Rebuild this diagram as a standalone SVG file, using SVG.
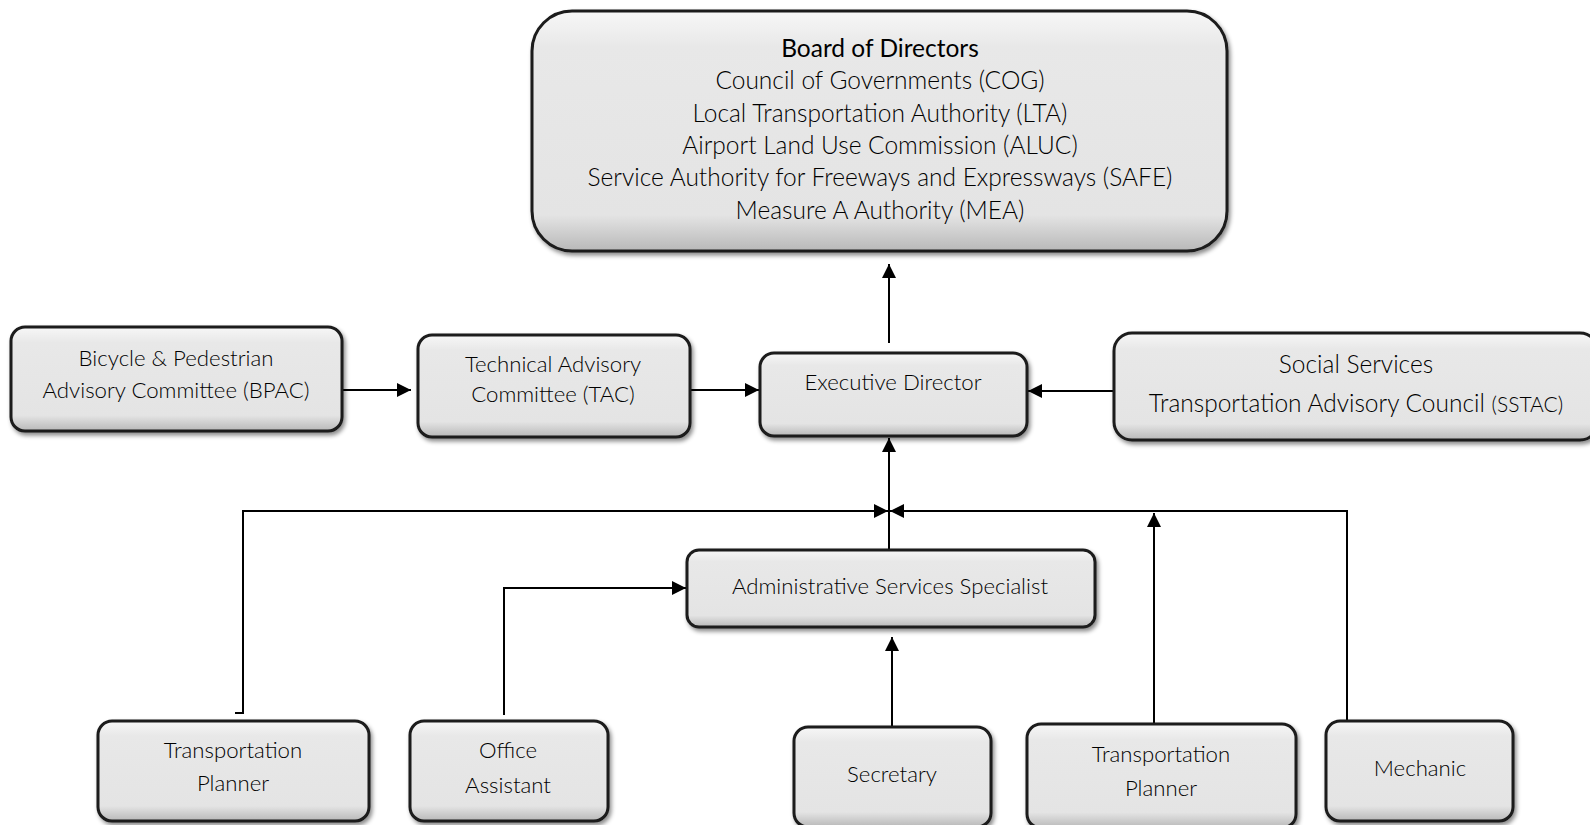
<svg xmlns="http://www.w3.org/2000/svg" width="1590" height="825" viewBox="0 0 1590 825">
<defs>
<linearGradient id="g" x1="0" y1="0" x2="0" y2="1">
<stop offset="0" stop-color="#f7f7f7"/>
<stop offset="0.15" stop-color="#e8e8e8"/>
<stop offset="0.85" stop-color="#e4e4e4"/>
<stop offset="1" stop-color="#b8b8b8"/>
</linearGradient>
<filter id="sh" x="-10%" y="-10%" width="125%" height="130%">
<feDropShadow dx="2" dy="3" stdDeviation="2" flood-color="#000" flood-opacity="0.45"/>
</filter>
<marker id="ah" viewBox="0 0 10 10" refX="10" refY="5" markerWidth="14" markerHeight="14" markerUnits="userSpaceOnUse" orient="auto">
<path d="M0,0 L10,5 L0,10 Z" fill="#000"/>
</marker>
</defs>
<style>
.box{fill:url(#g);stroke:#1a1a1a;stroke-width:3;filter:url(#sh)}
.t{font-family:Lato,"Open Sans",sans-serif;font-weight:300;font-size:22.2px;fill:#000;text-anchor:middle}
.tb{font-family:Lato,"Open Sans",sans-serif;font-weight:300;font-size:24.5px;fill:#000;text-anchor:middle}
.title{font-weight:400}
.c{stroke:#000;stroke-width:2;fill:none}
.ca{stroke:#000;stroke-width:2;fill:none;marker-end:url(#ah)}
</style>
<rect width="1590" height="825" fill="#fff"/>
<g id="connectors">
<path class="ca" d="M889,343 V264"/>
<path class="ca" d="M342,390 H411"/>
<path class="ca" d="M690,390 H759"/>
<path class="ca" d="M1114,391 H1028"/>
<path class="ca" d="M889,551 V438"/>
<path class="ca" d="M235,713 H243 V511 H888"/>
<path class="ca" d="M1347,722 V511 H890"/>
<path class="ca" d="M1154,724 V513"/>
<path class="ca" d="M504,715 V588 H686"/>
<path class="ca" d="M892,726 V637"/>
</g>
<g id="board">
<rect class="box" x="532" y="11" width="695" height="240" rx="40"/>
<text class="tb title" x="880" y="57">Board of Directors</text>
<text class="tb" x="880" y="89">Council of Governments (COG)</text>
<text class="tb" x="880" y="122">Local Transportation Authority (LTA)</text>
<text class="tb" x="880" y="154">Airport Land Use Commission (ALUC)</text>
<text class="tb" x="880" y="186">Service Authority for Freeways and Expressways (SAFE)</text>
<text class="tb" x="880" y="219">Measure A Authority (MEA)</text>
</g>
<g id="bpac">
<rect class="box" x="11" y="327" width="331" height="104" rx="14"/>
<text class="t" x="176" y="366">Bicycle &amp; Pedestrian</text>
<text class="t" x="176" y="398">Advisory Committee (BPAC)</text>
</g>
<g id="tac">
<rect class="box" x="418" y="335" width="272" height="102" rx="14"/>
<text class="t" x="553" y="372">Technical Advisory</text>
<text class="t" x="553" y="402">Committee (TAC)</text>
</g>
<g id="exec">
<rect class="box" x="760" y="353" width="267" height="83" rx="14"/>
<text class="t" x="893" y="390">Executive Director</text>
</g>
<g id="sstac">
<rect class="box" x="1114" y="333" width="484" height="107" rx="18"/>
<text class="tb" x="1356" y="373">Social Services</text>
<text class="tb" x="1356" y="412">Transportation Advisory Council <tspan font-size="21px">(SSTAC)</tspan></text>
</g>
<g id="admin">
<rect class="box" x="687" y="550" width="408" height="77" rx="12"/>
<text class="t" x="890" y="594">Administrative Services Specialist</text>
</g>
<g id="tp1">
<rect class="box" x="98" y="721" width="271" height="100" rx="14"/>
<text class="t" x="233" y="758">Transportation</text>
<text class="t" x="233" y="791">Planner</text>
</g>
<g id="office">
<rect class="box" x="410" y="721" width="198" height="100" rx="14"/>
<text class="t" x="508" y="758">Office</text>
<text class="t" x="508" y="793">Assistant</text>
</g>
<g id="secretary">
<rect class="box" x="794" y="727" width="197" height="100" rx="14"/>
<text class="t" x="892" y="782">Secretary</text>
</g>
<g id="tp2">
<rect class="box" x="1027" y="724" width="269" height="104" rx="14"/>
<text class="t" x="1161" y="762">Transportation</text>
<text class="t" x="1161" y="796">Planner</text>
</g>
<g id="mechanic">
<rect class="box" x="1326" y="721" width="187" height="100" rx="14"/>
<text class="t" x="1420" y="776">Mechanic</text>
</g>
</svg>
